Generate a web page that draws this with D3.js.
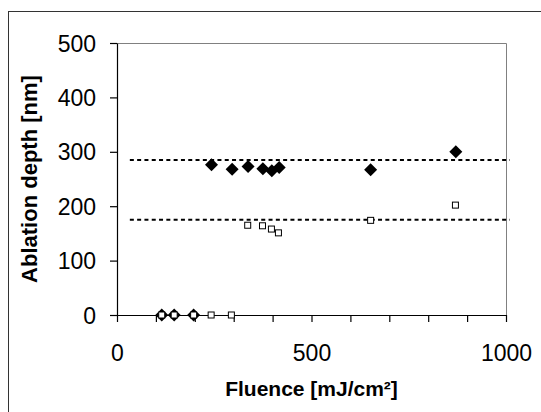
<!DOCTYPE html>
<html>
<head>
<meta charset="utf-8">
<script src="https://cdn.jsdelivr.net/npm/d3@7"></script>
<style>
  body { margin: 0; background: #fff; }
  svg { display: block; font-family: "Liberation Sans", Arial, sans-serif; }
</style>
</head>
<body>
<div id="svg-container"></div>
<script>
// data
const fluenceFilled = [115, 147, 197, 243, 296, 337, 375, 398, 417, 652, 871];
const depthFilled = [0, 0, 0, 276, 268, 273, 269, 265, 271, 267, 300];
const fluenceOpen = [115, 147, 197, 242, 294, 336, 374, 397, 415, 652, 870];
const depthOpen = [0, 0, 0, 0, 0, 165, 164, 158, 151, 174, 202];
const refLevels = [285, 175];
const refSpan = [33, 1010];
const xTickLabels = [0, 500, 1000];

const width = 541, height = 412;
const svg = d3.select("#svg-container").append("svg")
  .attr("width", width).attr("height", height);

// outer frame (runs off right/bottom edge)
svg.append("rect")
  .attr("x", 8.5).attr("y", 11.5)
  .attr("width", 600).attr("height", 500)
  .attr("fill", "none").attr("stroke", "#333").attr("stroke-width", 1);

const xScale = d3.scaleLinear().domain([0, 1000]).range([117, 506]);
const yScale = d3.scaleLinear().domain([0, 500]).range([315, 43]);

// plot area border (top/right)
svg.append("path")
  .attr("d", `M${xScale(0)},${yScale(500) + 0.5}H${xScale(1000) + 0.5}V${yScale(0)}`)
  .attr("fill", "none").attr("stroke", "#808080").attr("stroke-width", 1);

// axes
const xAxis = d3.axisBottom(xScale)
  .tickValues(d3.range(0, 1001, 100))
  .tickSize(7).tickSizeOuter(0)
  .tickFormat(d => xTickLabels.includes(d) ? d : "");
const yAxis = d3.axisLeft(yScale)
  .tickValues(d3.range(0, 501, 100))
  .tickSize(7).tickSizeOuter(0);

const gx = svg.append("g")
  .attr("transform", `translate(0,${yScale(0)})`)
  .call(xAxis);
gx.selectAll("text").attr("font-size", 23).attr("fill", "#000")
  .attr("dy", 0).attr("y", 46);

const gy = svg.append("g")
  .attr("transform", `translate(${xScale(0)},0)`)
  .call(yAxis);
gy.selectAll("text").attr("font-size", 23).attr("fill", "#000")
  .attr("x", -21).attr("dy", "0.35em");

svg.selectAll(".domain, .tick line").attr("stroke", "#000").attr("stroke-width", 1.2);

// dotted reference lines
svg.selectAll(".ref").data(refLevels).join("line")
  .attr("class", "ref")
  .attr("x1", xScale(refSpan[0])).attr("x2", xScale(refSpan[1]))
  .attr("y1", d => yScale(d)).attr("y2", d => yScale(d))
  .attr("stroke", "#000").attr("stroke-width", 2)
  .attr("stroke-dasharray", "4,3.3");

// filled diamonds
const filled = fluenceFilled.map((f, i) => ({ f, d: depthFilled[i] }));
svg.selectAll(".dia").data(filled).join("path")
  .attr("class", "dia")
  .attr("transform", d => `translate(${xScale(d.f)},${yScale(d.d)})`)
  .attr("d", "M0,-6.5L6.5,0L0,6.5L-6.5,0Z")
  .attr("fill", "#000");

// open squares
const open = fluenceOpen.map((f, i) => ({ f, d: depthOpen[i] }));
svg.selectAll(".sq").data(open).join("rect")
  .attr("class", "sq")
  .attr("x", d => xScale(d.f) - 3).attr("y", d => yScale(d.d) - 3)
  .attr("width", 6).attr("height", 6)
  .attr("fill", "#fff").attr("stroke", "#000").attr("stroke-width", 1);

// axis titles
svg.append("text")
  .attr("x", (xScale(0) + xScale(1000)) / 2).attr("y", 396)
  .attr("text-anchor", "middle")
  .attr("font-size", 21).attr("font-weight", "bold")
  .text("Fluence [mJ/cm²]");

svg.append("text")
  .attr("transform", `translate(37,${(yScale(0) + yScale(500)) / 2}) rotate(-90)`)
  .attr("text-anchor", "middle")
  .attr("font-size", 22).attr("font-weight", "bold")
  .text("Ablation depth [nm]");
</script>
</body>
</html>
